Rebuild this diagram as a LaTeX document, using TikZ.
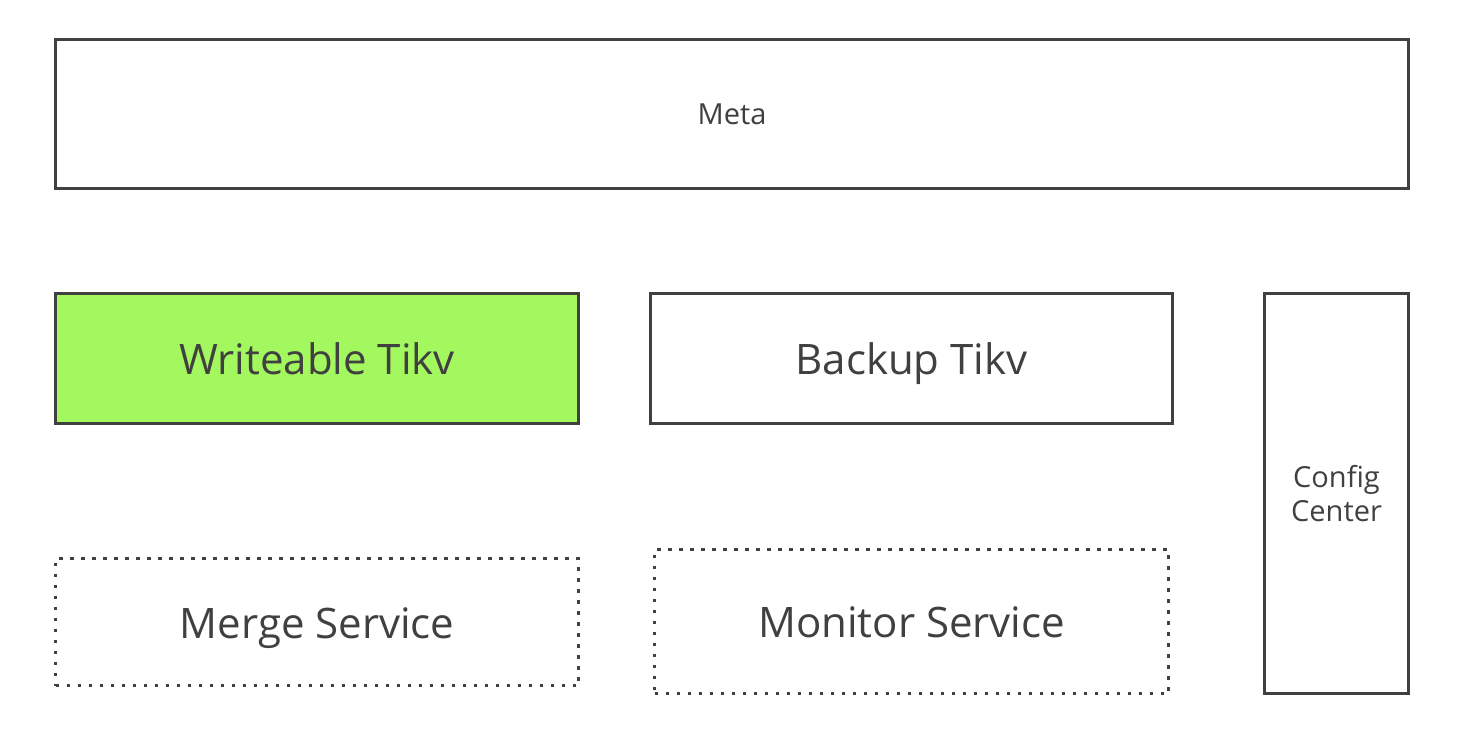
\documentclass[tikz,border=0pt]{standalone}
\usepackage{fontspec}
\setmainfont{Open Sans}
\begin{document}
\begin{tikzpicture}[x=0.5pt,y=-0.5pt,
  box/.style={draw=black!75, line width=1.5pt, text=black!75, inner sep=0pt, anchor=north west},
  dotbox/.style={box, line width=1.6pt, dash pattern=on 1.6pt off 3.9pt},
  big/.style={font=\fontsize{21}{25}\selectfont, text height=16pt, text depth=0pt},
  small/.style={font=\fontsize{14.5}{17}\selectfont}]
\useasboundingbox (0,0) rectangle (1464,732);
\node[box, small, minimum width=676.5pt, minimum height=74.5pt] (meta) at (54,38) {Meta};
\node[box, big, fill={rgb,255:red,163;green,247;blue,95}, minimum width=261.5pt, minimum height=65pt] (wt) at (54,292) {Writeable Tikv};
\node[box, big, minimum width=261pt, minimum height=65pt] (bt) at (649,292) {Backup Tikv};
\node[box, minimum width=72pt, minimum height=200pt, align=center, font=\fontsize{14.5}{17}\selectfont] (cc) at (1263,292) {Config\\Center};
\node[dotbox, big, minimum width=261.5pt, minimum height=63.5pt] (ms) at (54,557) {Merge Service};
\node[dotbox, big, minimum width=257pt, minimum height=72pt] (mon) at (653,548) {Monitor Service};
\end{tikzpicture}
\end{document}
